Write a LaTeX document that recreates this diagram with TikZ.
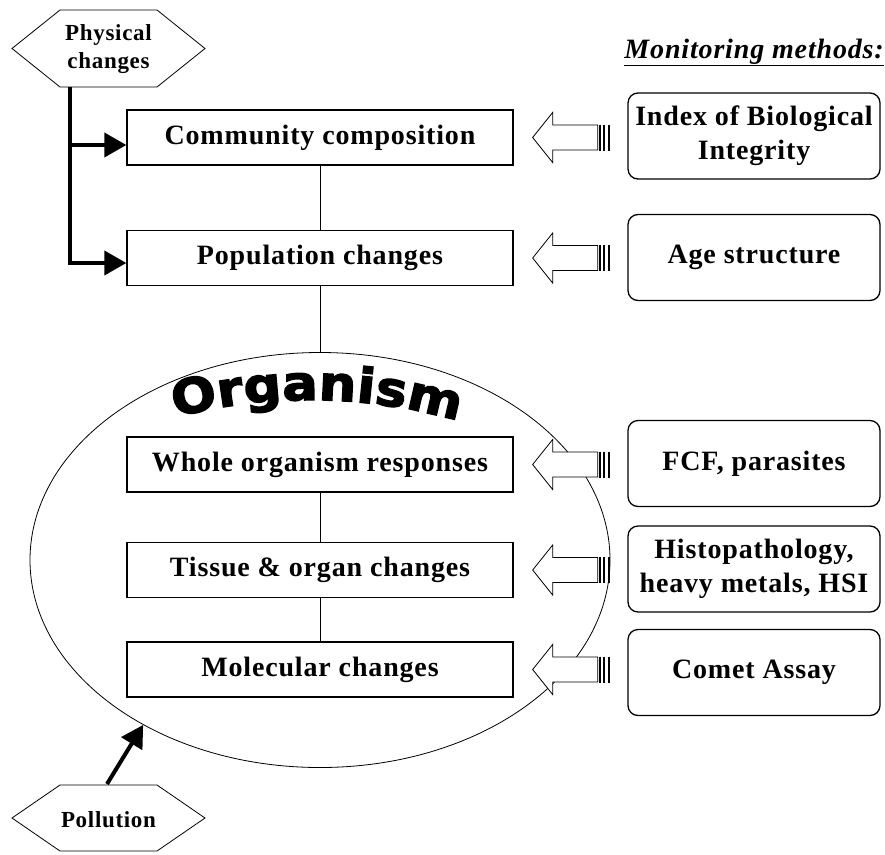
\documentclass[tikz,border=0pt]{standalone}
\usepackage{fontspec}
\setmainfont{Liberation Serif}[LetterSpace=3]
\newfontfamily\orgfont{DejaVu Sans}[BoldFeatures={FakeStretch=1.1,FakeBold=3}]
\usetikzlibrary{arrows.meta,calc,decorations.text,shapes.geometric}
\begin{document}
\begin{tikzpicture}[x=1pt,y=-1pt,
  lbox/.style={draw,line width=1.3pt,fill=white,minimum width=386pt,minimum height=55pt,inner sep=0pt,font=\fontsize{28}{30}\selectfont\bfseries},
  mbox/.style={draw,rounded corners=10pt,line width=1.3pt,minimum width=252pt,minimum height=86pt,inner sep=0pt,align=center,font=\fontsize{28}{34}\selectfont\bfseries},
  hexlbl/.style={align=center,inner sep=0pt,font=\fontsize{23}{28}\selectfont\bfseries},
  hexline/.style={line width=0.8pt},
  thickarrow/.style={line width=4pt,-{Triangle[length=22pt,width=24pt]}},
  link/.style={line width=0.8pt}]
\useasboundingbox (0,0) rectangle (885,854);

% ellipse (organism)
\node[draw,ellipse,line width=0.8pt,minimum width=580pt,minimum height=415pt,inner sep=0pt] (org) at (320,560) {};
\path[decorate,decoration={text along path,text align=center,
   text={|\orgfont\bfseries\fontsize{48}{48}\selectfont|Organism}}]
   (310pt,-935pt) ++(105:535pt) arc[start angle=105,end angle=73.5,radius=535pt];

% level boxes
\node[lbox] (comm) at (320,137.5) {Community composition};
\node[lbox] (pop) at (320,258) {Population changes};
\node[lbox] (whole) at (320,464.5) {Whole organism responses};
\node[lbox] (tissue) at (320,570) {Tissue \& organ changes};
\node[lbox] (mol) at (320,669.5) {Molecular changes};

\draw[link] (comm) -- (pop);
\draw[link] (pop.south) -- (org.north);
\draw[link] (whole) -- (tissue);
\draw[link] (tissue) -- (mol);

% monitoring methods
\node[anchor=base east,inner sep=0pt,font=\fontsize{28}{30}\selectfont\bfseries\itshape] (mon) at (884,58) {\underline{Monitoring methods:}};
\node[mbox] (ibi) at (754,136) {Index of Biological\\Integrity};
\node[mbox] (age) at (754,257.5) {Age structure};
\node[mbox] (fcf) at (754,463.5) {FCF, parasites};
\node[mbox] (histo) at (754,569) {Histopathology,\\heavy metals, HSI};
\node[mbox] (comet) at (754,672.5) {Comet Assay};

% hollow arrows from method boxes to levels
\newcommand\hollowarrow[2]{%
  \path (#1.east) ++(19,0) coordinate (#1tip);
  \draw[line width=0.8pt,fill=white] (#1tip) -- ++(20,-25) -- ++(0,12.5) -- ++(45,0)
     -- ++(0,25) -- ++(-45,0) -- ++(0,12.5) -- cycle;
  \foreach \dx in {2,6.5,11}{\draw[line width=2pt] ($(#1tip)+(65+\dx,-13)$) -- ++(0,26);}
}
\hollowarrow{comm}{ibi}
\hollowarrow{pop}{age}
\hollowarrow{whole}{fcf}
\hollowarrow{tissue}{histo}
\hollowarrow{mol}{comet}

% physical changes hexagon
\node[hexlbl] (phys) at (108.5,49) {Physical\\changes};
\draw[hexline] (12,48.5) -- (60,10) -- (157,10) -- (205,48.5) -- (157,87) -- (60,87) -- cycle;
\coordinate (physfoot) at (70,87);
\coordinate (branch) at (70,145);
\draw[thickarrow] (physfoot) |- ([yshift=-5pt]pop.west);
\draw[thickarrow] (branch) -- (branch -| comm.west);

% pollution hexagon
\node[hexlbl] (poll) at (108.5,820) {Pollution};
\draw[hexline] (12,818) -- (60,785) -- (157,785) -- (205,818) -- (157,851) -- (60,851) -- cycle;
\coordinate (pollfoot) at (107,784);
\draw[thickarrow] (pollfoot) -- (org.223);
\end{tikzpicture}
\end{document}
